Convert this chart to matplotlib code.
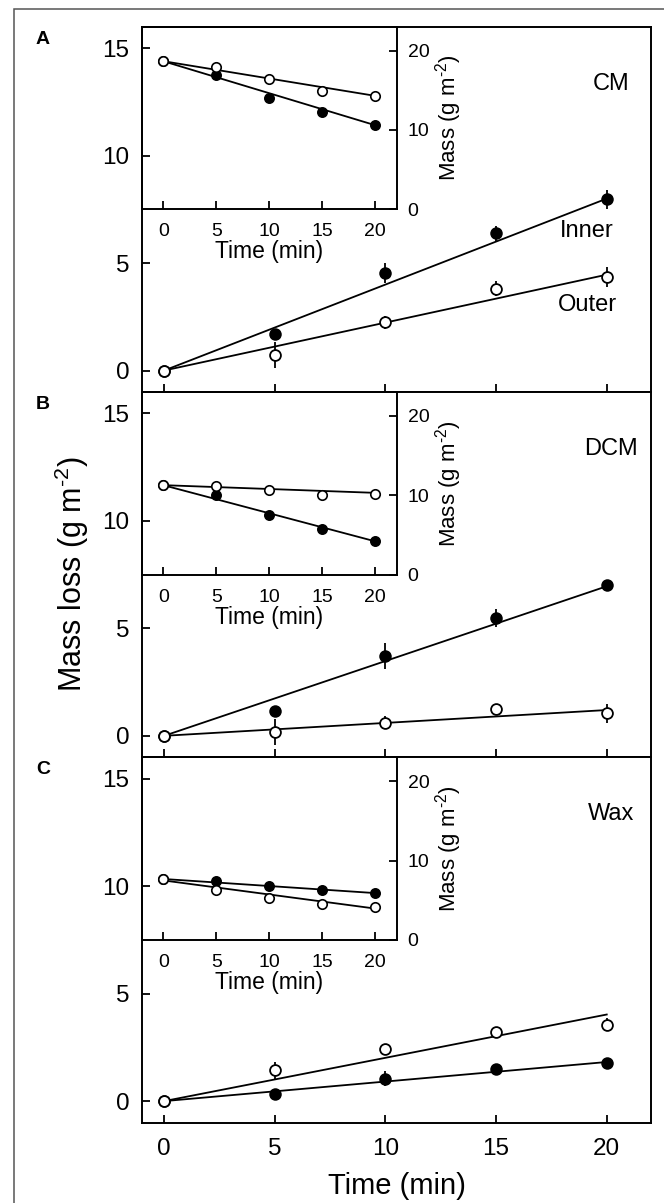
import matplotlib
matplotlib.use("Agg")
import matplotlib.pyplot as plt
from matplotlib.patches import Rectangle
import numpy as np

plt.rcParams['font.family'] = ['Liberation Sans', 'DejaVu Sans']
plt.rcParams['mathtext.fontset'] = 'custom'
plt.rcParams['mathtext.rm'] = 'Liberation Sans'
plt.rcParams['mathtext.it'] = 'Liberation Sans:italic'
plt.rcParams['mathtext.default'] = 'regular'

# ---------------- data ----------------
times = [0, 5, 10, 15, 20]
panel_letters = ['A', 'B', 'C']
panel_names = ['CM', 'DCM', 'Wax']

# main plots: mass loss (g m-2)
loss_inner_A = [0, 1.70, 4.53, 6.39, 7.97]
err_inner_A = [0, 0, 0.48, 0.35, 0.45]
loss_outer_A = [0, 0.73, 2.24, 3.81, 4.35]
err_outer_A = [0, 0.6, 0.3, 0.35, 0.45]
slope_inner_A = 0.40
slope_outer_A = 0.223

loss_inner_B = [0, 1.17, 3.72, 5.48, 7.00]
err_inner_B = [0, 0, 0.6, 0.4, 0]
loss_outer_B = [0, 0.16, 0.61, 1.23, 1.04]
err_outer_B = [0, 0.6, 0.3, 0, 0.43]
slope_inner_B = 0.348
slope_outer_B = 0.06

loss_inner_C = [0, 0.34, 1.04, 1.48, 1.79]
err_inner_C = [0, 0, 0.35, 0.15, 0]
loss_outer_C = [0, 1.43, 2.41, 3.22, 3.56]
err_outer_C = [0, 0.39, 0, 0, 0.3]
slope_inner_C = 0.091
slope_outer_C = 0.2015

# insets: mass (g m-2)
mass_inner_A = [18.66, 16.90, 14.08, 12.23, 10.59]
mass_outer_A = [18.66, 17.95, 16.39, 14.88, 14.29]
fit_inner_A = (18.66, -0.4035)
fit_outer_A = (18.66, -0.2185)

mass_inner_B = [11.27, 10.04, 7.51, 5.74, 4.18]
mass_outer_B = [11.27, 11.14, 10.63, 10.04, 10.21]
fit_inner_B = (11.27, -0.354)
fit_outer_B = (11.27, -0.0485)

mass_inner_C = [7.72, 7.43, 6.75, 6.24, 5.95]
mass_outer_C = [7.72, 6.29, 5.32, 4.51, 4.18]
fit_inner_C = (7.68, -0.089)
fit_outer_C = (7.50, -0.1775)

main_yticks = [0, 5, 10, 15]
inset_yticks = [0, 10, 20]

panels = [
    dict(li=loss_inner_A, ei=err_inner_A, lo=loss_outer_A, eo=err_outer_A,
         si=slope_inner_A, so=slope_outer_A, mi=mass_inner_A, mo=mass_outer_A,
         fi=fit_inner_A, fo=fit_outer_A),
    dict(li=loss_inner_B, ei=err_inner_B, lo=loss_outer_B, eo=err_outer_B,
         si=slope_inner_B, so=slope_outer_B, mi=mass_inner_B, mo=mass_outer_B,
         fi=fit_inner_B, fo=fit_outer_B),
    dict(li=loss_inner_C, ei=err_inner_C, lo=loss_outer_C, eo=err_outer_C,
         si=slope_inner_C, so=slope_outer_C, mi=mass_inner_C, mo=mass_outer_C,
         fi=fit_inner_C, fo=fit_outer_C),
]

# ---------------- figure ----------------
W, H = 664, 1203
fig = plt.figure(figsize=(W / 100, H / 100), dpi=100)

# outer frame
fig.add_artist(Rectangle((14 / W, -0.02), 1.2, 1 - 9 / H + 0.02, fill=False,
                         ec='#555555', lw=1.1, transform=fig.transFigure,
                         clip_on=False))

left_px, right_px = 142, 651
top_px = 26.7
ph = 365.3
t = np.array(times, dtype=float)
tline = np.array([0.0, 20.0])

UNIT = r'(g m$^{\text{-2}}$)'

LW_AX = 1.4
for i, p in enumerate(panels):
    top = top_px + i * ph
    ax = fig.add_axes([left_px / W, 1 - (top + ph) / H,
                       (right_px - left_px) / W, ph / H])
    ax.set_xlim(-1, 22)
    ax.set_ylim(-1, 16)
    for s in ax.spines.values():
        s.set_linewidth(LW_AX)
    ax.set_yticks(main_yticks)
    ax.set_xticks(times)
    ax.tick_params(direction='in', length=6, width=1.3, labelsize=17.5,
                   right=False, top=False)
    ax.tick_params(axis='y', pad=9)
    ax.tick_params(axis='x', pad=11)
    if i < 2:
        ax.tick_params(axis='x', labelbottom=False)
    else:
        ax.set_xlabel('Time (min)', fontsize=21, labelpad=9)

    # fits
    ax.plot(tline, p['si'] * tline, color='black', lw=1.3, zorder=2)
    ax.plot(tline, p['so'] * tline, color='black', lw=1.3, zorder=2)
    # error bars
    li, ei = np.array(p['li']), np.array(p['ei'])
    lo, eo = np.array(p['lo']), np.array(p['eo'])
    ax.vlines(t, li - ei, li + ei, color='black', lw=1.3, zorder=3)
    ax.vlines(t, lo - eo, lo + eo, color='black', lw=1.3, zorder=3)
    ax.plot(t, li, 'o', ms=7.8, mfc='black', mec='black', mew=1.2,
            ls='none', zorder=4)
    ax.plot(t, lo, 'o', ms=7.8, mfc='white', mec='black', mew=1.3,
            ls='none', zorder=5)

    ax.text(20.2, 13.35, panel_names[i], fontsize=17, ha='center',
            va='center')
    if i == 0:
        ax.text(19.1, 6.5, 'Inner', fontsize=17, ha='center', va='center')
        ax.text(19.15, 3.06, 'Outer', fontsize=17, ha='center',
                va='center')

    fig.text(36 / W, 1 - (top + 4) / H, panel_letters[i], fontsize=14,
             fontweight='bold', ha='left', va='top')

    # inset
    ins = ax.inset_axes([0, 0.5, 0.5, 0.5])
    ins.set_facecolor('none')
    ins.set_xlim(-2, 22)
    ins.set_ylim(0, 23)
    for s in ins.spines.values():
        s.set_linewidth(LW_AX)
    ins.yaxis.tick_right()
    ins.yaxis.set_label_position('right')
    ins.set_yticks(inset_yticks)
    ins.set_xticks(times)
    ins.tick_params(direction='in', length=6, width=1.3, labelsize=14,
                    left=False, top=False)
    ins.tick_params(axis='x', pad=10)
    ins.tick_params(axis='y', pad=8)
    ins.set_xlabel('Time (min)', fontsize=16.5, labelpad=0)
    ins.set_ylabel('Mass ' + UNIT, fontsize=16, labelpad=3)

    fi, fo = p['fi'], p['fo']
    ins.plot(tline, fi[0] + fi[1] * tline, color='black', lw=1.3, zorder=2)
    ins.plot(tline, fo[0] + fo[1] * tline, color='black', lw=1.3, zorder=2)
    ins.plot(t, p['mi'], 'o', ms=6.8, mfc='black', mec='black', mew=1.1,
             ls='none', zorder=4)
    ins.plot(t, p['mo'], 'o', ms=6.8, mfc='white', mec='black', mew=1.2,
             ls='none', zorder=5)

# shared y label
yc = 1 - (top_px + 1.5 * ph) / H
fig.text(72 / W, yc, 'Mass loss ' + UNIT, fontsize=22, rotation=90,
         ha='center', va='center')

fig.savefig('out.png', dpi=100)
